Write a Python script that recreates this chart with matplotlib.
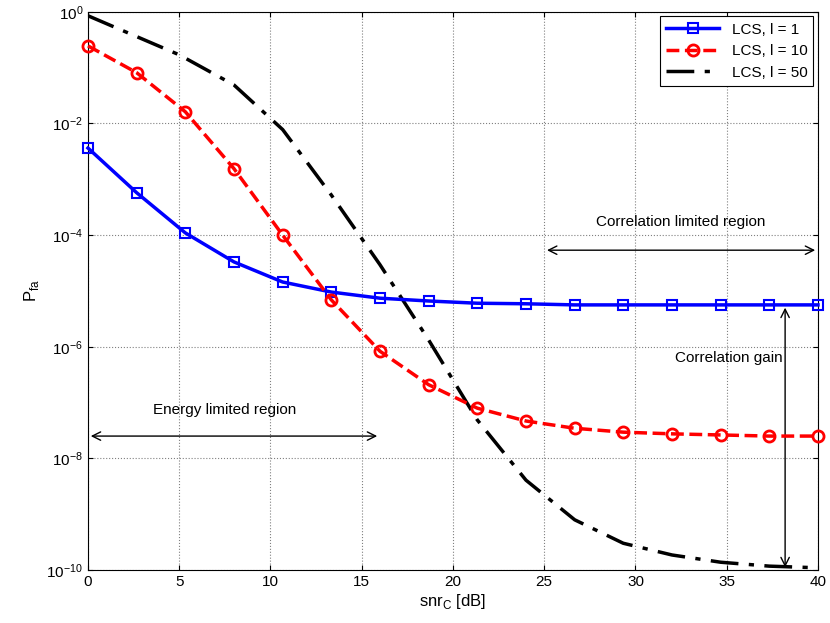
import numpy as np
import matplotlib
matplotlib.use("Agg")
from matplotlib import pyplot as plt

plt.rcParams['font.family'] = 'Liberation Sans'
plt.rcParams['mathtext.fontset'] = 'custom'
plt.rcParams['mathtext.rm'] = 'Liberation Sans'

# snr grid (16 points, 0..40 dB)
snr = np.linspace(0, 40, 16)

# log10 of P_fa
lcs1_log = [-2.44, -3.24, -3.96, -4.48, -4.84, -5.02, -5.13, -5.18, -5.22,
            -5.23, -5.25, -5.25, -5.25, -5.25, -5.25, -5.25]
lcs10_log = [-0.61, -1.09, -1.79, -2.81, -4.00, -5.16, -6.08, -6.68, -7.10,
             -7.33, -7.46, -7.53, -7.56, -7.58, -7.60, -7.60]
lcs50_x = [0, 5, 8, 10.67, 13.33, 16, 18.67, 21.33, 24, 26.67, 29.33, 32, 34.67, 37.33, 40]
lcs50_log = [-0.07, -0.77, -1.31, -2.11, -3.28, -4.53, -5.88, -7.31, -8.39,
             -9.10, -9.52, -9.73, -9.86, -9.93, -9.96]

fig = plt.figure(figsize=(8.3, 6.23), dpi=100)
ax = fig.add_axes([0.106, 0.085, 0.8795, 0.896])

ax.semilogy(snr, 10.0 ** np.array(lcs1_log), 'b-s', lw=2.5, ms=7, mfc='none', mew=1.5,
            label='LCS, l = 1', clip_on=False, zorder=4)
ax.semilogy(snr, 10.0 ** np.array(lcs10_log), 'r--o', lw=2.5, ms=8, mfc='none', mew=2,
            label='LCS, l = 10', clip_on=False, zorder=4)
ax.semilogy(lcs50_x, 10.0 ** np.array(lcs50_log), 'k', lw=2.5, dashes=(8, 3, 1.5, 3),
            label='LCS, l = 50', zorder=3)

ax.set_xlim(0, 40)
ax.set_ylim(1e-10, 1)
ax.set_xticks(range(0, 41, 5))
ax.set_yticks([10.0 ** k for k in range(-10, 1, 2)])
ax.yaxis.set_minor_locator(matplotlib.ticker.NullLocator())
ax.tick_params(direction='in', labelsize=11, top=True, right=True)
ax.grid(True, linestyle=':', color='0.5', lw=0.8)
ax.set_xlabel(r'snr$_\mathrm{C}$ [dB]', fontsize=12, labelpad=2)
ax.set_ylabel(r'P$_\mathrm{fa}$', fontsize=12)

arrow = dict(arrowstyle='<->', color='k', lw=1, mutation_scale=15)
ax.annotate('', xy=(25, 10 ** -4.27), xytext=(40, 10 ** -4.27), arrowprops=arrow)
ax.text(32.5, 10 ** -3.76, 'Correlation limited region', ha='center', va='center', fontsize=11)
ax.annotate('', xy=(0, 10 ** -7.6), xytext=(16, 10 ** -7.6), arrowprops=arrow)
ax.text(7.5, 10 ** -7.13, 'Energy limited region', ha='center', va='center', fontsize=11)
ax.annotate('', xy=(38.2, 10 ** -5.25), xytext=(38.2, 1e-10), arrowprops=arrow)
ax.text(35.1, 10 ** -6.2, 'Correlation gain', ha='center', va='center', fontsize=11)

leg = ax.legend(loc='upper right', fontsize=11, fancybox=False, framealpha=1, edgecolor='k',
                handlelength=3.5, borderaxespad=0.3)
leg.get_frame().set_linewidth(0.8)

fig.savefig('out.png', dpi=100)
